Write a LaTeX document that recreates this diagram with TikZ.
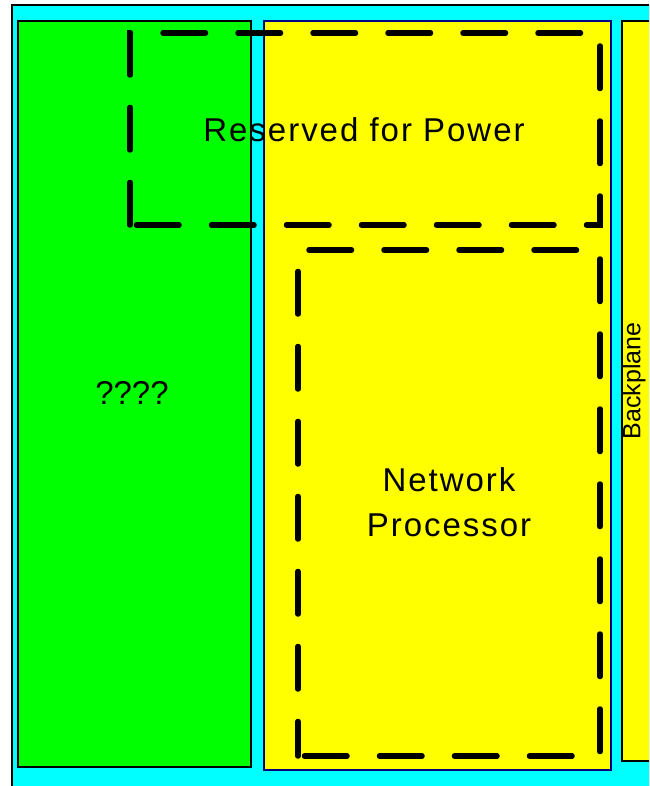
\documentclass[tikz,border=0pt]{standalone}
\usepackage{fontspec}
\setmainfont{Liberation Sans}
\newfontfamily\spacedfont[LetterSpace=6]{Liberation Sans}
\definecolor{navyblue}{RGB}{0,0,128}
\definecolor{boardcyan}{RGB}{0,255,255}
\definecolor{blockgreen}{RGB}{0,255,0}
\definecolor{blockyellow}{RGB}{255,255,0}

\begin{document}
\begin{tikzpicture}[x=1pt, y=-1pt, every node/.style={align=center, inner sep=0pt},
  area/.style={line width=5.5pt, line cap=round, dash pattern=on 42.5pt off 32.5pt}]
\useasboundingbox (0,0) rectangle (649,786);
\clip (0,0) rectangle (649,786);
% board and blocks
\draw[line width=2pt, fill=boardcyan] (12,5) rectangle (670,800);
\draw[line width=2pt, fill=blockgreen] (18,21) rectangle (251,767);
\draw[line width=2pt, draw=navyblue, fill=blockyellow] (264,21) rectangle (611,770);
\draw[line width=2pt, fill=blockyellow] (622,21) rectangle (670,761);

% dashed areas
\draw[area] (130,225) -- (130,33) -- (600,33) -- (600,225) -- cycle;
\draw[area, dash phase=8pt] (298,756) -- (298,250) -- (600,250) -- (600,756) -- cycle;

\node (power) [font=\spacedfont\fontsize{33}{40}\selectfont, anchor=base] at (364,142) {Reserved for Power};
\node (unknown) [font=\fontsize{33}{40}\selectfont] at (132,393) {????};
\node (netproc) [font=\spacedfont\fontsize{33}{45}\selectfont] at (449,502) {Network\\Processor};
\node (backplane) [font=\fontsize{25}{30}\selectfont, rotate=90] at (634,381) {Backplane};
\end{tikzpicture}
\end{document}
